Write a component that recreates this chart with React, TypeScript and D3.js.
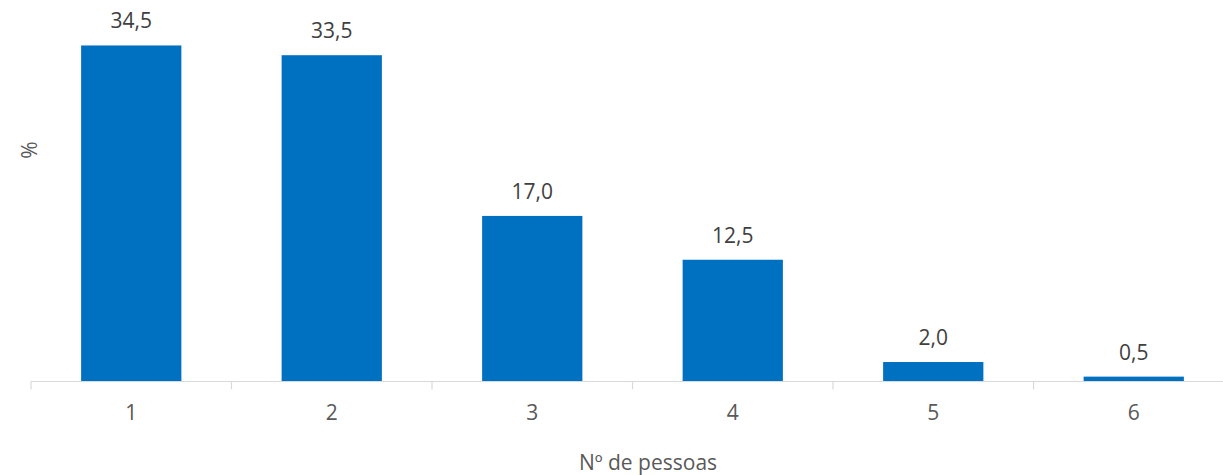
import React from "react";
import * as d3 from "d3";

const categories = ["1", "2", "3", "4", "5", "6"];
const values = [34.5, 33.5, 17.0, 12.5, 2.0, 0.5];
const valueLabels = ["34,5", "33,5", "17,0", "12,5", "2,0", "0,5"];
const xTitle = "Nº de pessoas";
const yTitle = "%";

export default function App() {
  const W = 1223;
  const H = 475;
  const x0 = 31;
  const band = 200.5;
  const baseY = 381.5;
  const x = d3
    .scaleBand<string>()
    .domain(categories)
    .range([x0, x0 + band * categories.length])
    .paddingInner(0.5)
    .paddingOuter(0.25);
  const y = d3.scaleLinear().domain([0, 35]).range([baseY, baseY - 35 * 9.74]);
  const font = "'Open Sans', 'Liberation Sans', sans-serif";
  const ticks = d3.range(categories.length + 1).map((i) => x0 + i * band);

  return (
    <svg
      width={W}
      height={H}
      style={{ position: "absolute", left: 0, top: 0, background: "#fff" }}
    >
      {categories.map((c, i) => (
        <rect
          key={c}
          x={x(c)!}
          y={y(values[i])}
          width={x.bandwidth()}
          height={baseY - y(values[i])}
          fill="#0070C0"
        />
      ))}
      <line x1={x0} x2={W} y1={baseY} y2={baseY} stroke="#d9d9d9" strokeWidth={1.2} />
      {ticks.map((t, i) => (
        <line key={i} x1={t} x2={t} y1={baseY} y2={baseY + 8} stroke="#d9d9d9" strokeWidth={1.2} />
      ))}
      {categories.map((c, i) => (
        <text
          key={"v" + c}
          x={x(c)! + x.bandwidth() / 2}
          y={y(values[i]) - 17}
          textAnchor="middle"
          fontFamily={font}
          fontSize={21}
          fill="#404040"
        >
          {valueLabels[i]}
        </text>
      ))}
      {categories.map((c) => (
        <text
          key={"t" + c}
          x={x(c)! + x.bandwidth() / 2}
          y={420}
          textAnchor="middle"
          fontFamily={font}
          fontSize={21}
          fill="#595959"
        >
          {c}
        </text>
      ))}
      <text
        x={648}
        y={470}
        textAnchor="middle"
        fontFamily={font}
        fontSize={21}
        fill="#595959"
      >
        {xTitle}
      </text>
      <text
        transform="translate(37,150) rotate(-90)"
        textAnchor="middle"
        fontFamily={font}
        fontSize={21}
        fill="#595959"
      >
        {yTitle}
      </text>
    </svg>
  );
}
